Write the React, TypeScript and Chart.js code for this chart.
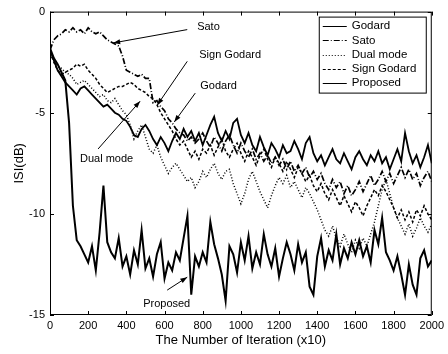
import React, { useEffect, useRef } from "react";
import { Chart, registerables } from "chart.js";

Chart.register(...registerables);

// iteration index (x10), step 20
const iterations: number[] = Array.from({ length: 101 }, (_, i) => i * 20);

const godard: number[] = [
  -1.9, -2.4, -2.9, -3.2, -3.5, -3.7, -3.9, -4.1, -3.8, -3.7,
  -3.9, -4.1, -4.3, -4.5, -4.7, -4.6, -4.8, -5.0, -5.1, -5.3,
  -5.4, -5.7, -6.1, -6.2, -5.8, -5.6, -5.9, -6.3, -6.6, -6.2,
  -6.5, -6.9, -6.4, -6.0, -6.3, -5.8, -6.2, -5.9, -6.4, -6.0,
  -6.6, -6.1, -5.6, -5.2, -6.0, -6.4, -5.9, -6.3, -5.5, -5.3,
  -6.1, -6.5, -6.0, -6.6, -6.9, -6.2, -6.7, -7.1, -6.5, -6.8,
  -7.2, -6.6, -7.0, -6.9, -6.4, -6.8, -7.3, -6.5, -6.2, -7.0,
  -7.4, -7.1, -7.6, -7.2, -6.8, -7.3, -7.5, -7.0, -7.4, -7.8,
  -7.2, -6.9, -7.3, -7.6, -7.1, -7.4, -6.9, -7.5, -7.2, -7.8,
  -7.3, -6.8, -7.4, -6.0, -6.9, -7.5, -7.1, -7.7, -7.2, -6.6,
  -7.5,
];

const sato: number[] = [
  -1.9, -1.4, -1.2, -1.1, -0.9, -1.0, -0.8, -1.0, -0.9, -1.1,
  -0.8, -1.0, -1.1, -1.0, -1.2, -1.4, -1.5, -1.6, -1.7, -2.2,
  -2.9, -3.0, -3.1, -3.2, -3.1, -3.3, -3.3, -4.5, -4.4, -4.7,
  -4.9, -5.3, -5.5, -5.8, -6.0, -6.1, -6.4, -6.2, -6.5, -6.3,
  -6.0, -6.4, -6.7, -6.2, -6.5, -6.9, -6.4, -6.1, -6.6, -7.0,
  -6.5, -6.9, -7.2, -6.8, -7.3, -7.0, -7.4, -7.1, -7.5, -7.2,
  -7.6, -7.3, -7.8, -7.4, -7.9, -7.6, -8.0, -7.7, -8.2, -7.9,
  -8.3, -8.0, -8.5, -8.8, -8.3, -8.7, -8.4, -9.0, -8.6, -9.1,
  -8.8, -8.4, -8.9, -8.5, -8.1, -8.6, -8.3, -7.9, -8.4, -8.0,
  -8.5, -8.1, -7.7, -8.2, -7.8, -8.3, -8.0, -8.6, -8.2, -7.9,
  -8.4,
];

const dualMode: number[] = [
  -2.1, -2.4, -2.7, -2.8, -3.0, -3.1, -3.3, -3.6, -3.5, -3.4,
  -3.6, -3.8, -4.0, -4.2, -4.1, -4.4, -4.5, -4.3, -4.6, -4.9,
  -5.1, -5.6, -6.3, -5.9, -5.6, -6.2, -6.8, -7.0, -6.6, -7.2,
  -7.6, -8.0, -7.7, -7.5, -7.8, -8.1, -8.4, -8.2, -8.7, -8.4,
  -7.9, -8.2, -7.8, -7.5, -8.0, -8.3, -7.9, -7.8, -8.5, -9.0,
  -9.5, -9.0, -8.3, -7.9, -8.4, -8.9, -9.3, -9.7, -9.1, -8.6,
  -8.2, -8.5, -8.1, -8.7, -8.4, -8.8, -9.2, -8.7, -9.0, -9.4,
  -9.8, -10.3, -10.8, -11.1, -10.6, -11.2, -11.6, -11.0, -11.5, -11.9,
  -11.3, -11.7, -11.2, -11.6, -11.0, -10.4, -9.6, -8.8, -8.3, -9.0,
  -9.7, -10.2, -10.6, -11.0, -10.5, -11.1, -10.7, -10.2, -10.6, -10.9,
  -10.5,
];

const signGodard: number[] = [
  -2.0, -2.5, -2.9, -3.1, -3.0, -2.9, -2.8, -2.6, -2.7, -2.6,
  -2.9, -3.1, -3.3, -3.6, -3.8, -4.0, -3.9, -3.8, -3.7, -3.7,
  -3.6, -3.5, -3.6, -3.8, -3.9, -4.0, -4.2, -4.3, -4.6, -5.0,
  -5.3, -5.6, -5.9, -6.3, -6.6, -6.4, -6.8, -7.2, -6.9, -7.3,
  -6.8, -7.0, -6.6, -7.1, -6.7, -6.3, -6.9, -7.2, -6.8, -6.5,
  -7.0, -7.4, -6.9, -7.2, -7.6, -7.1, -6.8, -7.3, -7.7, -7.2,
  -7.5, -7.9, -7.4, -7.8, -8.2, -7.7, -8.0, -8.4, -8.1, -8.6,
  -8.9, -8.5, -9.0, -9.3, -8.8, -9.2, -9.6, -9.1, -9.5, -9.9,
  -9.4, -9.7, -10.1, -9.6, -9.2, -8.8, -9.1, -8.6, -8.9, -9.3,
  -9.7, -10.2, -9.8, -10.3, -9.9, -10.4, -9.8, -10.1, -9.6, -10.0,
  -10.3,
];

const proposed: number[] = [
  -1.8, -2.3, -2.6, -3.0, -3.4, -5.5, -9.6, -11.3, -11.6, -12.0,
  -12.4, -11.6, -12.8, -10.9, -8.6, -11.4, -11.9, -12.2, -11.2, -12.6,
  -12.1, -13.0, -11.8, -12.5, -10.8, -12.7, -12.2, -13.1, -12.0, -11.4,
  -13.2, -12.4, -12.8, -11.9, -12.3, -11.2, -10.1, -14.0, -12.1, -12.6,
  -11.9, -12.4, -10.4, -11.5, -12.2, -13.0, -14.3, -11.6, -12.0, -12.9,
  -11.4, -12.3, -11.1, -12.7, -11.9, -12.5, -11.0, -12.0, -12.6, -11.7,
  -13.1, -12.2, -11.4, -12.0, -12.8, -11.5, -12.4, -11.9, -13.6, -14.0,
  -12.1, -11.2, -12.6, -11.8, -12.3, -11.0, -12.5, -11.7, -12.2, -11.4,
  -12.0, -11.3, -12.1, -11.6, -12.4, -10.8, -11.5, -10.2, -11.9, -12.3,
  -12.8, -12.1, -13.0, -14.0, -12.5, -13.5, -14.0, -12.2, -11.8, -12.6,
  -12.3,
];

const seriesNames: string[] = ["Godard", "Sato", "Dual mode", "Sign Godard", "Proposed"];
const seriesValues: number[][] = [godard, sato, dualMode, signGodard, proposed];
const seriesDash: number[][] = [[], [6, 2, 1, 2], [1, 2], [3, 2], []];
const seriesWidth: number[] = [1.8, 1.7, 1.5, 1.5, 2.0];

const xTicks: number[] = [0, 200, 400, 600, 800, 1000, 1200, 1400, 1600, 1800, 2000];
const yTicks: number[] = [-15, -10, -5, 0];

// annotations: label, text anchor (data coords), arrow from -> to (data coords)
const annotations = [
  { text: "Sato", at: [771, -0.74], from: [719, -0.89], to: [331, -1.55] },
  { text: "Sign Godard", at: [782, -2.12], from: [719, -2.46], to: [562, -4.62] },
  { text: "Godard", at: [787, -3.69], from: [761, -4.03], to: [651, -5.46] },
  { text: "Dual mode", at: [157, -7.28], from: [252, -6.79], to: [472, -4.43] },
  { text: "Proposed", at: [488, -14.46], from: [614, -13.77], to: [719, -13.13] },
];

const FONT = "'Liberation Sans', Arial, Helvetica, sans-serif";

const decorPlugin = {
  id: "decor",
  afterDatasetsDraw(chart: any) {
    const { ctx, chartArea } = chart;
    const xs = chart.scales.x;
    const ys = chart.scales.y;
    const { left, right, top, bottom } = chartArea;
    ctx.save();
    // box
    ctx.strokeStyle = "#000";
    ctx.lineWidth = 1;
    ctx.setLineDash([]);
    ctx.strokeRect(left + 0.5, top + 0.5, right - left - 1, bottom - top - 1);
    // inward ticks
    ctx.beginPath();
    xTicks.forEach((v) => {
      const px = Math.round(xs.getPixelForValue(v)) + 0.5;
      ctx.moveTo(px, bottom);
      ctx.lineTo(px, bottom - 4);
      ctx.moveTo(px, top);
      ctx.lineTo(px, top + 4);
    });
    yTicks.forEach((v) => {
      const py = Math.round(ys.getPixelForValue(v)) + 0.5;
      ctx.moveTo(left, py);
      ctx.lineTo(left + 4, py);
      ctx.moveTo(right, py);
      ctx.lineTo(right - 4, py);
    });
    ctx.stroke();

    // annotations
    ctx.fillStyle = "#000";
    ctx.font = `11px ${FONT}`;
    ctx.textBaseline = "middle";
    ctx.textAlign = "left";
    annotations.forEach((a) => {
      ctx.fillText(a.text, xs.getPixelForValue(a.at[0]), ys.getPixelForValue(a.at[1]));
      const x1 = xs.getPixelForValue(a.from[0]);
      const y1 = ys.getPixelForValue(a.from[1]);
      const x2 = xs.getPixelForValue(a.to[0]);
      const y2 = ys.getPixelForValue(a.to[1]);
      ctx.beginPath();
      ctx.moveTo(x1, y1);
      ctx.lineTo(x2, y2);
      ctx.lineWidth = 1;
      ctx.stroke();
      const ang = Math.atan2(y2 - y1, x2 - x1);
      const L = 7;
      const W = 2.5;
      ctx.beginPath();
      ctx.moveTo(x2, y2);
      ctx.lineTo(x2 - L * Math.cos(ang) + W * Math.sin(ang), y2 - L * Math.sin(ang) - W * Math.cos(ang));
      ctx.lineTo(x2 - L * Math.cos(ang) - W * Math.sin(ang), y2 - L * Math.sin(ang) + W * Math.cos(ang));
      ctx.closePath();
      ctx.fill();
    });

    // legend
    const lx = right - 113;
    const ly = top + 5;
    const lw = 107;
    const lh = 76;
    ctx.fillStyle = "#fff";
    ctx.fillRect(lx, ly, lw, lh);
    ctx.strokeStyle = "#000";
    ctx.lineWidth = 1;
    ctx.setLineDash([]);
    ctx.strokeRect(lx + 0.5, ly + 0.5, lw, lh);
    ctx.font = `11.5px ${FONT}`;
    ctx.fillStyle = "#000";
    seriesNames.forEach((name, i) => {
      const yy = ly + 9.5 + i * 14.3;
      ctx.beginPath();
      ctx.setLineDash(seriesDash[i]);
      ctx.lineWidth = 1;
      ctx.moveTo(lx + 4, Math.round(yy) + 0.5);
      ctx.lineTo(lx + 28, Math.round(yy) + 0.5);
      ctx.stroke();
      ctx.setLineDash([]);
      ctx.fillText(name, lx + 33, yy);
    });
    ctx.restore();
  },
};

export default function App() {
  const canvasRef = useRef<HTMLCanvasElement | null>(null);

  useEffect(() => {
    document.body.style.margin = "0";
    const canvas = canvasRef.current;
    if (!canvas) return;
    const datasets = seriesNames.map((name, i) => ({
      label: name,
      data: iterations.map((x, j) => ({ x, y: seriesValues[i][j] })),
      borderColor: "#000",
      backgroundColor: "#000",
      borderWidth: seriesWidth[i],
      borderDash: seriesDash[i],
      pointRadius: 0,
      tension: 0,
      fill: false,
    }));
    const chart = new Chart(canvas, {
      type: "line",
      data: { datasets },
      options: {
        animation: false,
        responsive: true,
        maintainAspectRatio: false,
        layout: { padding: { top: 10, right: 16, left: 0, bottom: 0 } },
        plugins: { legend: { display: false }, tooltip: { enabled: false } },
        scales: {
          x: {
            type: "linear",
            min: 0,
            max: 2000,
            afterFit: (s: any) => {
              s.height = 39;
            },
            afterBuildTicks: (s: any) => {
              s.ticks = xTicks.map((v) => ({ value: v }));
            },
            grid: { display: false, drawTicks: false },
            border: { display: false },
            ticks: {
              padding: 4,
              color: "#000",
              maxRotation: 0,
              autoSkip: false,
              font: { family: FONT, size: 11 },
              callback: (v: any) => String(v),
            },
            title: {
              display: true,
              text: "The Number of Iteration (x10)",
              color: "#000",
              font: { family: FONT, size: 13 },
              padding: { top: 0, bottom: 6 },
            },
          },
          y: {
            type: "linear",
            min: -15,
            max: 0,
            afterFit: (s: any) => {
              s.width = 50;
            },
            afterBuildTicks: (s: any) => {
              s.ticks = yTicks.map((v) => ({ value: v }));
            },
            grid: { display: false, drawTicks: false },
            border: { display: false },
            ticks: {
              padding: 5,
              color: "#000",
              autoSkip: false,
              font: { family: FONT, size: 11 },
              callback: (v: any) => String(v),
            },
            title: {
              display: true,
              text: "ISI(dB)",
              color: "#000",
              font: { family: FONT, size: 13 },
              padding: { top: 12, bottom: 0 },
            },
          },
        },
      },
      plugins: [decorPlugin],
    });
    return () => chart.destroy();
  }, []);

  return (
    <div style={{ position: "relative", width: 448, height: 354, background: "#fff" }}>
      <canvas ref={canvasRef} />
    </div>
  );
}
